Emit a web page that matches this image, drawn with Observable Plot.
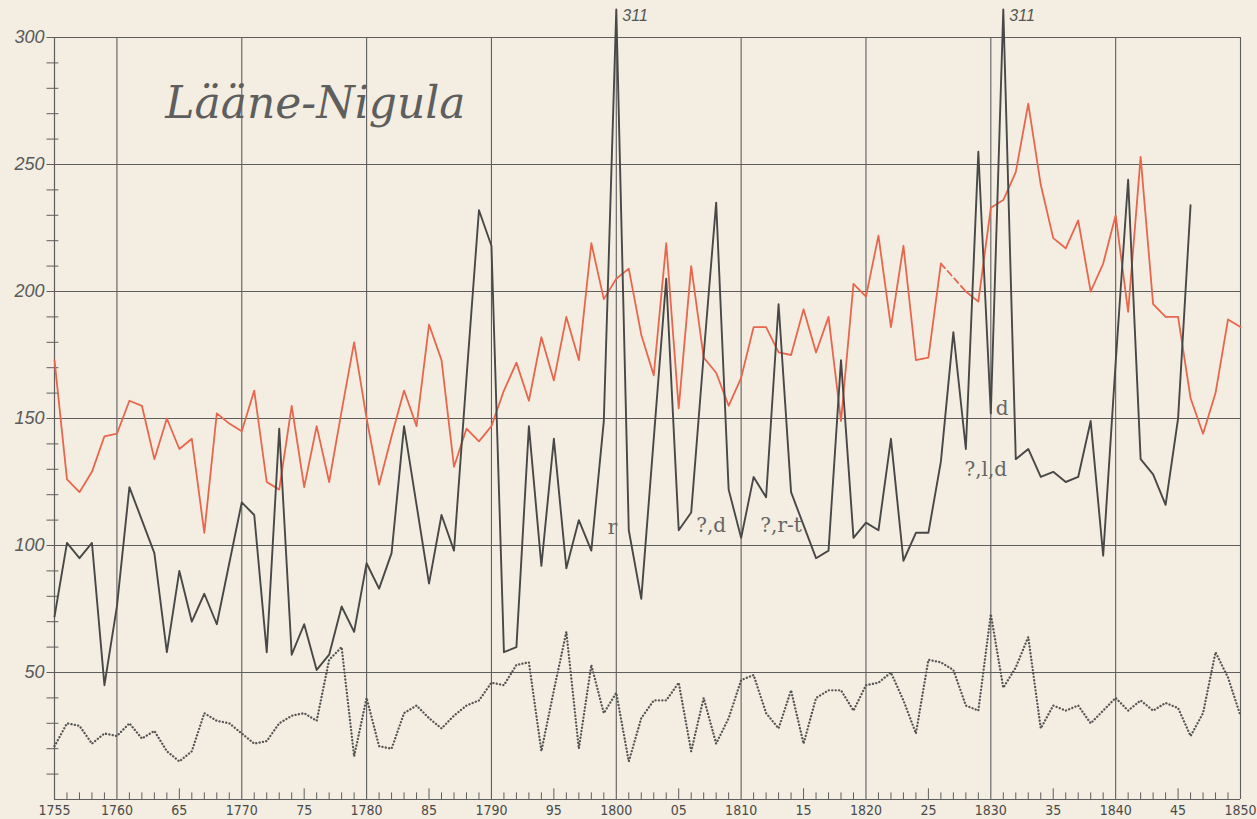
<!DOCTYPE html>
<html>
<head>
<meta charset="utf-8">
<script src="https://cdn.jsdelivr.net/npm/d3@7"></script>
<script src="https://cdn.jsdelivr.net/npm/@observablehq/plot@0.6"></script>
<style>
  html, body { margin: 0; padding: 0; background: #f3eee1; }
  #chart svg { display: block; }
</style>
</head>
<body>
<div id="chart"></div>
<script>
// ---- data ----
const firstYear = 1755;
// red line (births)
const redValues = [
  173,126,121,129,143,144,157,155,134,150,
  138,142,105,152,148,145,161,125,122,155,
  123,147,125,153,180,150,124,143,161,147,
  187,173,131,146,141,147,161,172,157,182,
  165,190,173,219,197,205,209,183,167,219,
  154,210,174,168,155,166,186,186,176,175,
  193,176,190,149,203,198,222,186,218,173,
  174,211,null,200,196,233,236,247,274,242,
  221,217,228,200,211,230,192,253,195,190,
  190,158,144,160,189,186
];
// dark solid line (deaths), 1755–1846
const blackValues = [
  72,101,95,101,45,76,123,110,97,58,
  90,70,81,69,93,117,112,58,146,57,
  69,51,57,76,66,93,83,97,147,116,
  85,112,98,166,232,218,58,60,147,92,
  142,91,110,98,149,311,106,79,142,205,
  106,113,175,235,122,103,127,119,195,121,
  108,95,98,173,103,109,106,142,94,105,
  105,133,184,138,255,152,311,134,138,127,
  129,125,127,149,96,172,244,134,128,116,
  150,234
];
// dotted line (marriages)
const dottedValues = [
  21,30,29,22,26,25,30,24,27,19,
  15,19,34,31,30,26,22,23,30,33,
  34,31,55,60,17,40,21,20,34,37,
  32,28,33,37,39,46,45,53,54,19,
  43,66,20,53,34,42,15,32,39,39,
  46,19,40,22,32,47,49,34,28,43,
  22,40,43,43,35,45,46,50,39,26,
  55,54,51,37,35,73,44,52,64,28,
  37,35,37,30,35,40,35,39,35,38,
  36,25,34,58,48,33
];
// red gap bridged by a dashed segment
const redDashedYears = [1826, 1828];

const yTickValues = [50, 100, 150, 200, 250, 300];
const yTickLabels = ["50", "100", "150", "200", "250", "300"];
const xLabelYears = [1755,1760,1765,1770,1775,1780,1785,1790,1795,1800,1805,1810,1815,1820,1825,1830,1835,1840,1845,1850];
const xLabels = ["1755","1760","65","1770","75","1780","85","1790","95","1800","05","1810","15","1820","25","1830","35","1840","45","1850"];
const decadeYears = [1760,1770,1780,1790,1800,1810,1820,1830,1840,1850];
const title = "Lääne-Nigula";
const peakLabels = [{year: 1800, value: 311, text: "311"}, {year: 1831, value: 311, text: "311"}];
const notes = [
  {year: 1799.7, value: 107, text: "r"},
  {year: 1807.6, value: 108, text: "?,d"},
  {year: 1813.2, value: 108, text: "?,r-t"},
  {year: 1829.6, value: 130, text: "?,l,d"},
  {year: 1830.9, value: 154, text: "d"}
];

// ---- tables ----
const red = redValues.map((v, i) => ({year: firstYear + i, value: v}));
const black = blackValues.map((v, i) => ({year: firstYear + i, value: v}));
const dotted = dottedValues.map((v, i) => ({year: firstYear + i, value: v}));
const redDashed = red.filter(d => redDashedYears.includes(d.year));
const allYears = dotted.map(d => d.year);
const minorYearTicks = allYears.filter(y => y % 10 !== 0 && y !== 1755 && y !== 1850);
const minorYTicks = d3.range(10, 300, 10).filter(v => v % 50 !== 0);
const xLabelRows = xLabelYears.map((y, i) => ({year: y, label: xLabels[i]}));
const yLabelRows = yTickValues.map((v, i) => ({value: v, label: yTickLabels[i]}));

const grid = "#5e5e5e";
const redColor = "#e8664d";

const chart = Plot.plot({
  width: 1257,
  height: 819,
  marginLeft: 54,
  marginRight: 17,
  marginTop: 37,
  marginBottom: 20,
  x: {domain: [1755, 1850], axis: null},
  y: {domain: [0, 300], axis: null},
  style: {background: "#f3eee1", overflow: "visible"},
  marks: [
    // horizontal grid
    Plot.ruleY(yTickValues, {x1: 1754.4, x2: 1850, stroke: grid, strokeWidth: 1.1}),
    // vertical grid
    Plot.ruleX(decadeYears, {y1: 0, y2: 300, stroke: grid, strokeWidth: 1.1}),
    // left axis and bottom axis
    Plot.ruleX([1755], {y1: 0, y2: 300, stroke: grid, strokeWidth: 1.2}),
    Plot.ruleY([0], {x1: 1755, x2: 1850, stroke: grid, strokeWidth: 1.2}),
    // y minor ticks
    Plot.ruleY(minorYTicks, {x1: 1754.4, x2: 1755.35, stroke: grid, strokeWidth: 1}),
    // x year ticks
    Plot.ruleX(minorYearTicks, {y1: 0, y2: d => d % 5 === 0 ? 4.2 : 2.6, stroke: grid, strokeWidth: 1}),
    // y labels
    Plot.text(yLabelRows, {x: 1755, y: "value", text: "label", dx: -10, textAnchor: "end",
      fontSize: 18, fontStyle: "italic", fill: "#5a5a5a", fontFamily: "Liberation Sans, sans-serif"}),
    // x labels
    Plot.text(xLabelRows, {x: "year", y: 0, text: "label", dy: 11, fontSize: 14,
      fill: "#4a4a4a", fontFamily: "Liberation Sans Narrow, DejaVu Sans Condensed, sans-serif"}),
    // title
    Plot.text([title], {x: 1775.9, y: 274, text: d => d, fontSize: 44, fontStyle: "italic",
      fill: "#5e5e5e", fontFamily: "DejaVu Serif, serif", textAnchor: "middle"}),
    // series
    Plot.line(dotted, {x: "year", y: "value", stroke: "#555", strokeWidth: 2.3,
      strokeDasharray: "0.1 3.3", strokeLinecap: "round"}),
    Plot.line(red, {x: "year", y: "value", stroke: redColor, strokeWidth: 1.8}),
    Plot.line(redDashed, {x: "year", y: "value", stroke: redColor, strokeWidth: 1.8, strokeDasharray: "6 4"}),
    Plot.line(black, {x: "year", y: "value", stroke: "#484848", strokeWidth: 1.9}),
    // annotations
    Plot.text(peakLabels, {x: "year", y: "value", text: "text", dx: 6, dy: 6, textAnchor: "start",
      fontSize: 16, fontStyle: "italic", fill: "#555", fontFamily: "Liberation Sans Narrow, sans-serif"}),
    Plot.text(notes, {x: "year", y: "value", text: "text", fontSize: 20,
      fill: "#666", fontFamily: "DejaVu Serif, serif"})
  ]
});
document.getElementById("chart").appendChild(chart);
</script>
</body>
</html>
